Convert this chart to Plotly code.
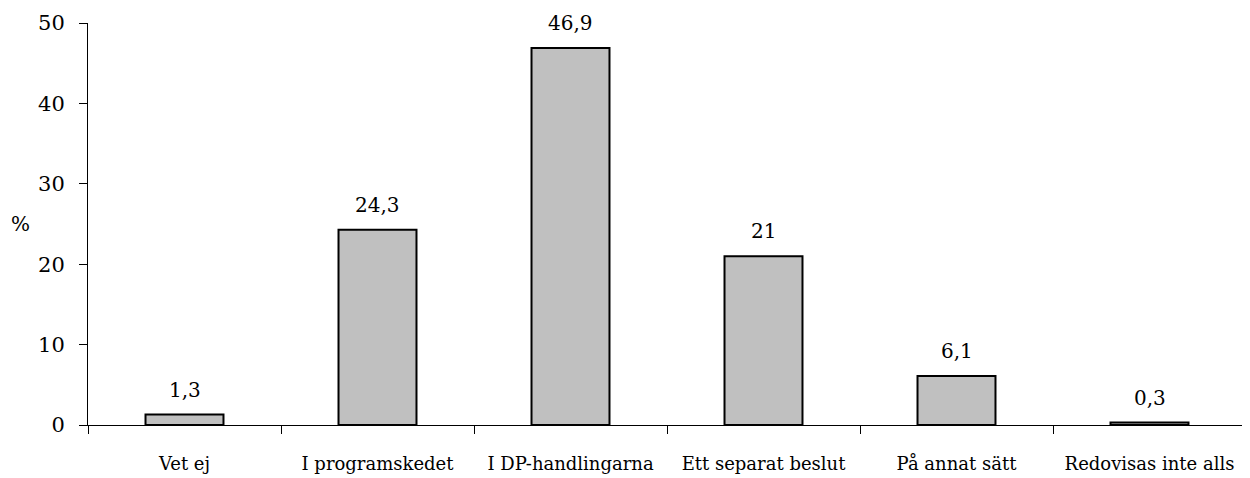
import plotly.graph_objects as go

categories = ["Vet ej", "I programskedet", "I DP-handlingarna",
              "Ett separat beslut", "På annat sätt", "Redovisas inte alls"]
values = [1.3, 24.3, 46.9, 21, 6.1, 0.3]
y_ticks = [0, 10, 20, 30, 40, 50]

FONT = "DejaVu Serif, serif"


def fmt(v):
    s = f"{v:g}"
    return s.replace(".", ",")


fig = go.Figure(
    go.Bar(
        x=categories,
        y=values,
        width=0.404,
        marker=dict(color="#c0c0c0", line=dict(color="black", width=2)),
        hoverinfo="x+y",
    )
)

for c, v in zip(categories, values):
    fig.add_annotation(
        x=c, y=v, text=fmt(v), showarrow=False,
        yanchor="bottom", yshift=11,
        font=dict(family=FONT, size=20, color="black"),
    )

fig.add_annotation(
    xref="paper", yref="paper", x=-0.058, y=0.5, text="%",
    showarrow=False, xanchor="center", yanchor="middle",
    font=dict(family=FONT, size=20, color="black"),
)

fig.update_xaxes(
    showline=True, linecolor="black", linewidth=1, automargin=False,
    ticks="outside", tickson="boundaries", ticklen=8, tickcolor="black",
    tickfont=dict(family=FONT, size=18, color="black"),
    ticklabelstandoff=22, showgrid=False,
)
fig.update_yaxes(
    range=[0, 50], tickvals=y_ticks, automargin=False,
    showline=True, linecolor="black", linewidth=1,
    ticks="outside", ticklen=8, tickcolor="black",
    tickfont=dict(family=FONT, size=21, color="black"),
    ticklabelstandoff=10, showgrid=False, zeroline=False,
)

fig.update_layout(
    width=1250, height=478,
    template="plotly_white",
    plot_bgcolor="white", paper_bgcolor="white",
    margin=dict(l=80, r=12, t=15, b=61),
    showlegend=False,
    font=dict(family=FONT, color="black"),
)

fig.write_html("out.html")
